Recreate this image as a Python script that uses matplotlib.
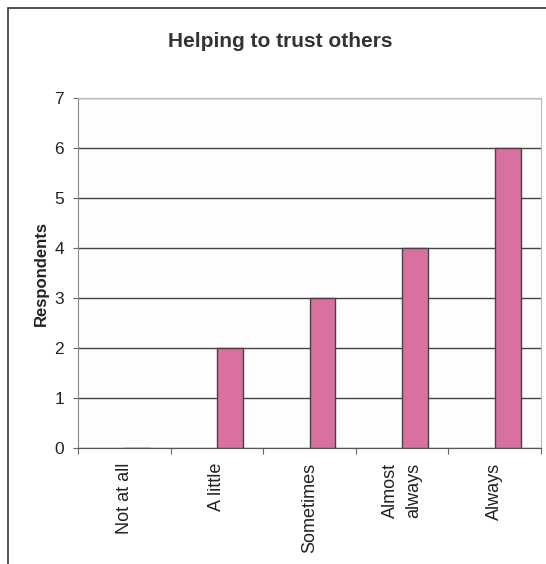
""" Bar chart: Helping to trust others. """

import matplotlib.pyplot as plt
from matplotlib.patches import Rectangle
import numpy as np

plt.rcParams["font.family"] = ["Liberation Sans", "DejaVu Sans"]

# Data
categories = ["Not at all", "A little", "Sometimes", "Almost\nalways", "Always"]
respondents = [0, 2, 3, 4, 6]
y_ticks = [0, 1, 2, 3, 4, 5, 6, 7]

W, H = 546, 564
fig = plt.figure(figsize=(W / 100, H / 100), dpi=100)
fig.patch.set_facecolor("white")

# Outer chart frame (cropped on right/bottom)
fig.patches.append(Rectangle((7.7 / W, -0.1), 1.2, 1.1 - 8.5 / H,
                             transform=fig.transFigure, fill=False,
                             edgecolor="#333333", linewidth=1.2))

ax = fig.add_axes([78 / W, 1 - 448 / H, 463 / W, 350 / H])
ax.set_facecolor("#fdfdfd")

x = np.arange(len(categories))
ax.bar(x, respondents, width=0.28, align="edge", color="#d870a0",
       edgecolor="#444444", linewidth=1.0, zorder=3)

ax.set_xlim(-0.5, len(categories) - 0.5)
ax.set_ylim(0, 7)
ax.set_yticks(y_ticks)
ax.yaxis.grid(True, color="#444444", linewidth=1.0, zorder=1)

# category labels between tick marks
ax.set_xticks(np.arange(len(categories) + 1) - 0.5)
ax.set_xticklabels([])
ax.tick_params(axis="x", length=4.5, color="#666666", direction="out")
for i, c in enumerate(categories):
    ax.text(i, -0.3, c, rotation=90, ha="center", va="top",
            fontsize=13, color="#222222", multialignment="center",
            linespacing=1.5)

ax.tick_params(axis="y", length=3.5, color="#666666", labelsize=12.5,
               labelcolor="#222222", pad=6.5)

for side in ["top", "right"]:
    ax.spines[side].set_color("#bbbbbb")
ax.spines["left"].set_color("#888888")
ax.spines["bottom"].set_color("#555555")

ax.set_ylabel("Respondents", fontsize=12, fontweight="bold",
              color="#222222", labelpad=4)

fig.text(280.5 / W, 1 - 47 / H, "Helping to trust others", ha="center",
         va="baseline", fontsize=15, fontweight="bold", color="#333333")

fig.savefig("out.png", dpi=100)
